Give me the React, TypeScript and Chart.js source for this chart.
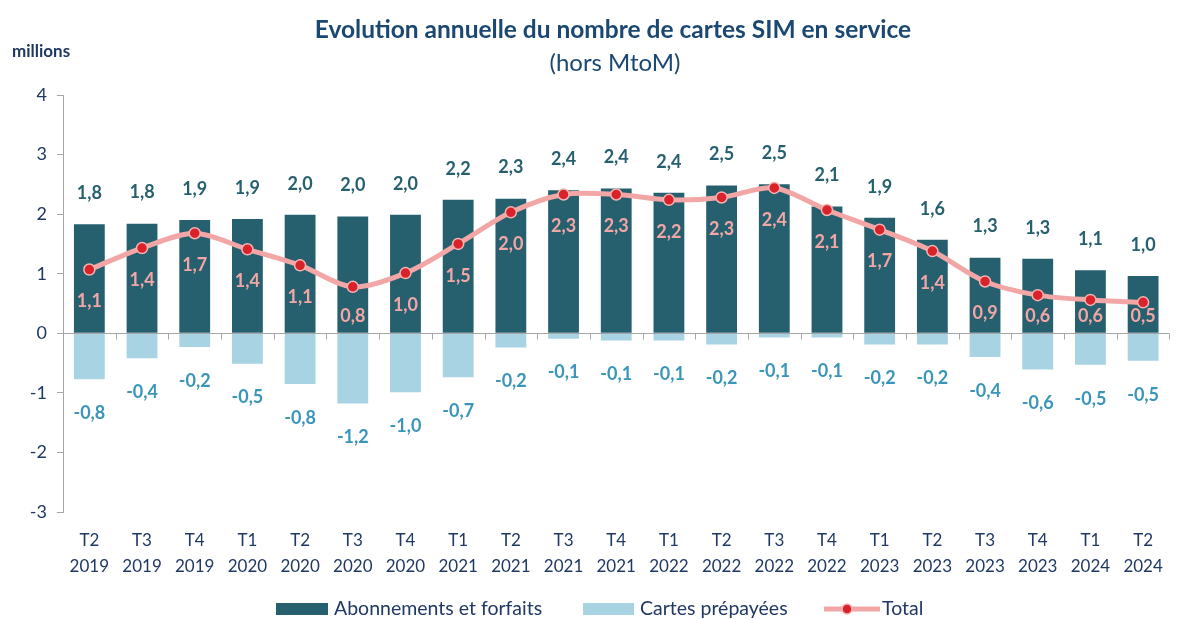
import React, { useEffect, useRef } from "react";
import { Chart, registerables } from "chart.js";

Chart.register(...registerables);

const quarters = ["T2", "T3", "T4", "T1", "T2", "T3", "T4", "T1", "T2", "T3", "T4", "T1", "T2", "T3", "T4", "T1", "T2", "T3", "T4", "T1", "T2"];
const years = ["2019", "2019", "2019", "2020", "2020", "2020", "2020", "2021", "2021", "2021", "2021", "2022", "2022", "2022", "2022", "2023", "2023", "2023", "2023", "2024", "2024"];

const abonnements = [1.83, 1.84, 1.90, 1.92, 1.99, 1.96, 1.99, 2.24, 2.26, 2.40, 2.43, 2.36, 2.48, 2.50, 2.13, 1.94, 1.57, 1.27, 1.25, 1.06, 0.96];
const prepayees = [-0.77, -0.42, -0.23, -0.51, -0.85, -1.18, -0.99, -0.74, -0.24, -0.09, -0.12, -0.12, -0.19, -0.07, -0.07, -0.19, -0.19, -0.40, -0.61, -0.53, -0.46];
const total = [1.07, 1.43, 1.68, 1.41, 1.14, 0.78, 1.01, 1.50, 2.03, 2.33, 2.33, 2.24, 2.28, 2.44, 2.07, 1.74, 1.38, 0.87, 0.64, 0.56, 0.52];

const yTicks = [-3, -2, -1, 0, 1, 2, 3, 4];

const titleText = "Evolution annuelle du nombre de cartes SIM en service";
const subtitleText = "(hors MtoM)";
const unitText = "millions";
const legendLabels = ["Abonnements et forfaits", "Cartes prépayées", "Total"];

const DARK = "#26606f";
const LIGHT = "#a7d3e3";
const LINE = "#f2a6a6";
const POINT = "#d9232a";
const NAVY = "#1f3864";
const TITLE = "#1b4872";
const FONT = "Lato, 'Open Sans', sans-serif";

const fmt = (v: number) => v.toFixed(1).replace(".", ",").replace("-0,0", "0,0");

const overlay = {
  id: "overlay",
  afterDatasetsDraw(chart: any) {
    const { ctx, scales, chartArea } = chart;
    const x = scales.x;
    const y = scales.y;
    const y0 = Math.round(y.getPixelForValue(0)) + 0.5;
    ctx.save();
    ctx.strokeStyle = "#a6a6a6";
    ctx.lineWidth = 1;
    ctx.beginPath();
    ctx.moveTo(chartArea.left, y0);
    ctx.lineTo(chartArea.right, y0);
    const n = quarters.length;
    const w = (chartArea.right - chartArea.left) / n;
    for (let i = 1; i <= n; i++) {
      const xb = Math.round(chartArea.left + i * w) + 0.5;
      ctx.moveTo(xb, y0);
      ctx.lineTo(xb, y0 + 6);
    }
    ctx.stroke();

    ctx.textAlign = "center";
    ctx.textBaseline = "middle";
    ctx.font = `bold 18px ${FONT}`;
    const zeroY = y.getPixelForValue(0);
    for (let i = 0; i < n; i++) {
      const cx = x.getPixelForValue(i);
      ctx.fillStyle = DARK;
      ctx.fillText(fmt(abonnements[i]), cx, y.getPixelForValue(abonnements[i]) - 31);
      ctx.fillStyle = "#3a95b9";
      ctx.fillText(fmt(prepayees[i]), cx, y.getPixelForValue(prepayees[i]) + 34);
      ctx.fillStyle = LINE;
      const ty = Math.min(y.getPixelForValue(total[i]) + 32, zeroY - 17);
      ctx.fillText(fmt(total[i]), cx, ty);
    }
    ctx.restore();
  },
  afterDraw(chart: any) {
    const { ctx } = chart;
    ctx.save();
    ctx.textAlign = "center";
    ctx.textBaseline = "middle";
    ctx.fillStyle = TITLE;
    ctx.font = `bold 24.5px ${FONT}`;
    ctx.fillText(titleText, 613, 30);
    ctx.font = `24px ${FONT}`;
    ctx.fillText(subtitleText, 615, 63);
    ctx.textAlign = "left";
    ctx.fillStyle = NAVY;
    ctx.font = `bold 17px ${FONT}`;
    ctx.fillText(unitText, 12, 52);

    // legend
    const ly = 609;
    ctx.font = `19.5px ${FONT}`;
    ctx.fillStyle = DARK;
    ctx.fillRect(276, ly - 6, 52, 12);
    ctx.fillStyle = NAVY;
    ctx.fillText(legendLabels[0], 334, ly);
    ctx.fillStyle = LIGHT;
    ctx.fillRect(583, ly - 6, 51, 12);
    ctx.fillStyle = NAVY;
    ctx.fillText(legendLabels[1], 640, ly);
    ctx.strokeStyle = LINE;
    ctx.lineWidth = 5;
    ctx.beginPath();
    ctx.moveTo(824, ly);
    ctx.lineTo(880, ly);
    ctx.stroke();
    ctx.beginPath();
    ctx.arc(847, ly, 5, 0, Math.PI * 2);
    ctx.fillStyle = POINT;
    ctx.fill();
    ctx.lineWidth = 1.5;
    ctx.strokeStyle = "#f5b5b5";
    ctx.stroke();
    ctx.fillStyle = NAVY;
    ctx.fillText(legendLabels[2], 882, ly);
    ctx.restore();
  },
};

export default function App() {
  const ref = useRef<HTMLCanvasElement>(null);
  useEffect(() => {
    if (!ref.current) return;
    const labels = quarters.map((q, i) => [q, years[i]]);
    const chart = new Chart(ref.current, {
      type: "bar",
      data: {
        labels,
        datasets: [
          {
            type: "line",
            label: legendLabels[2],
            data: total,
            stack: "total",
            order: 0,
            borderColor: LINE,
            borderWidth: 5,
            tension: 0.3,
            pointRadius: 5.5,
            pointBackgroundColor: POINT,
            pointBorderColor: "#f5b5b5",
            pointBorderWidth: 1.5,
          } as any,
          {
            label: legendLabels[0],
            data: abonnements,
            backgroundColor: DARK,
            stack: "bars",
            order: 1,
            barPercentage: 0.585,
            categoryPercentage: 1,
          },
          {
            label: legendLabels[1],
            data: prepayees,
            backgroundColor: LIGHT,
            stack: "bars",
            order: 1,
            barPercentage: 0.585,
            categoryPercentage: 1,
          },
        ],
      },
      options: {
        animation: false,
        responsive: false,
        devicePixelRatio: 1,
        layout: { padding: { top: 95, left: 0, right: 1, bottom: 0 } },
        plugins: { legend: { display: false }, title: { display: false }, tooltip: { enabled: false } },
        scales: {
          x: {
            stacked: true,
            grid: { display: false, drawTicks: false },
            border: { display: false },
            ticks: {
              color: NAVY,
              font: { family: FONT, size: 17, lineHeight: 1.55 },
              padding: 15,
              maxRotation: 0,
              autoSkip: false,
            },
            afterFit: (s: any) => {
              s.height = 107;
            },
          },
          y: {
            stacked: true,
            min: -3,
            max: 4,
            afterBuildTicks: (s: any) => {
              s.ticks = yTicks.map((v) => ({ value: v }));
            },
            grid: { drawOnChartArea: false, drawTicks: true, tickLength: 6, color: "#a6a6a6" },
            border: { display: true, color: "#a6a6a6" },
            ticks: {
              color: NAVY,
              font: { family: FONT, size: 18 },
              padding: 10,
              callback: (v: any) => String(v),
            },
            afterFit: (s: any) => {
              s.width = 63;
            },
          },
        },
      },
      plugins: [overlay],
    });
    return () => chart.destroy();
  }, []);
  return (
    <div style={{ position: "fixed", left: 0, top: 0, width: 1178, height: 619, background: "#fff" }}>
      <canvas ref={ref} width={1178} height={619} />
    </div>
  );
}
